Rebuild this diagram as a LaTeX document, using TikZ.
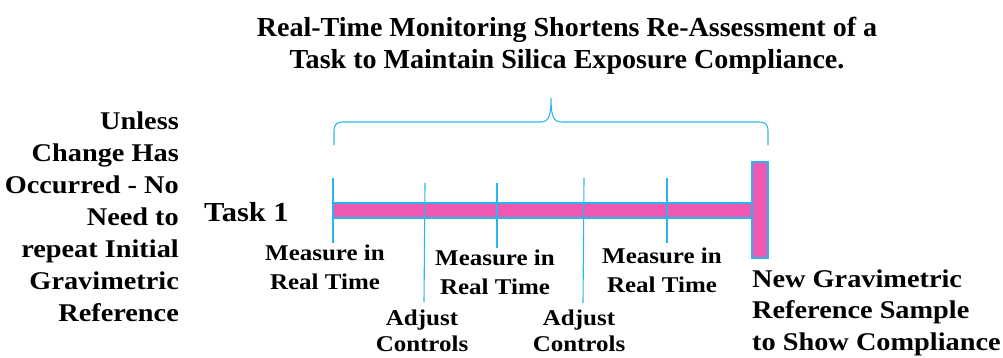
\documentclass[tikz,border=0pt]{standalone}
\usepackage{fontspec}
\setmainfont{Liberation Serif}[FakeStretch=1.11]
\newfontfamily\titlefont{Liberation Serif}[FakeStretch=1.02]
\definecolor{barpink}{HTML}{F057B0}
\definecolor{lineblue}{HTML}{29B6EE}
\begin{document}
\begin{tikzpicture}[x=1pt,y=-1pt,
  lbl/.style={inner sep=0pt,font=\bfseries\fontsize{22.5}{28.5}\selectfont,align=center,anchor=base},
  side/.style={inner sep=0pt,font=\bfseries\fontsize{25.5}{32}\selectfont},
  ttl/.style={inner sep=0pt,font=\titlefont\bfseries\fontsize{27.5}{32}\selectfont,align=center,anchor=base},
  tick/.style={draw=lineblue,line width=1.1pt},
  barstyle/.style={fill=barpink,draw=lineblue,line width=1.1pt}]
\useasboundingbox (0,0) rectangle (1003,357);
% title
\node[ttl] (title) at (567,68) {Real-Time Monitoring Shortens Re-Assessment of a\\Task to Maintain Silica Exposure Compliance.};
% brace
\draw[lineblue,line width=1.1pt] (334,145) -- (334,132) .. controls (334,123) and (337,122) .. (345,122) -- (540,122) .. controls (548,122) and (551,118) .. (551,98) .. controls (551,118) and (554,122) .. (562,122) -- (757,122) .. controls (765,122) and (768,123) .. (768,132) -- (768,145);
% ticks
\coordinate (t1a) at (333,178); \coordinate (t1b) at (333,243);
\coordinate (t2a) at (425,183); \coordinate (t2b) at (424,302);
\coordinate (t3a) at (497,183); \coordinate (t3b) at (497,248);
\coordinate (t4a) at (584,178); \coordinate (t4b) at (583,303);
\coordinate (t5a) at (667,178); \coordinate (t5b) at (667,243);
% bar
\draw[barstyle] (333,203) rectangle (754,218);
\draw[barstyle] (752,162) rectangle (768,258);
\draw[tick] (t1a) -- (t1b);
\draw[tick] (t2a) -- (t2b);
\draw[tick] (t3a) -- (t3b);
\draw[tick] (t4a) -- (t4b);
\draw[tick] (t5a) -- (t5b);
% labels
\node[side,anchor=base east,align=right] (left) at (179,321) {Unless\\Change Has\\Occurred - No\\Need to\\repeat Initial\\Gravimetric\\Reference};
\node[side,anchor=base west,font=\bfseries\fontsize{27.5}{32}\selectfont] (task) at (204,221) {Task 1};
\node[lbl] (m1) at (325,289) {Measure in\\Real Time};
\node[lbl] (m2) at (495,294) {Measure in\\Real Time};
\node[lbl] (m3) at (662,292) {Measure in\\Real Time};
\node[lbl,font=\bfseries\fontsize{22.5}{26}\selectfont] (a1) at (422,351) {Adjust\\Controls};
\node[lbl,font=\bfseries\fontsize{22.5}{26}\selectfont] (a2) at (579,351) {Adjust\\Controls};
\node[side,anchor=base west,align=left,font=\bfseries\fontsize{25.5}{31.5}\selectfont] (right) at (752,350) {New Gravimetric\\Reference Sample\\to Show Compliance};
\end{tikzpicture}
\end{document}
